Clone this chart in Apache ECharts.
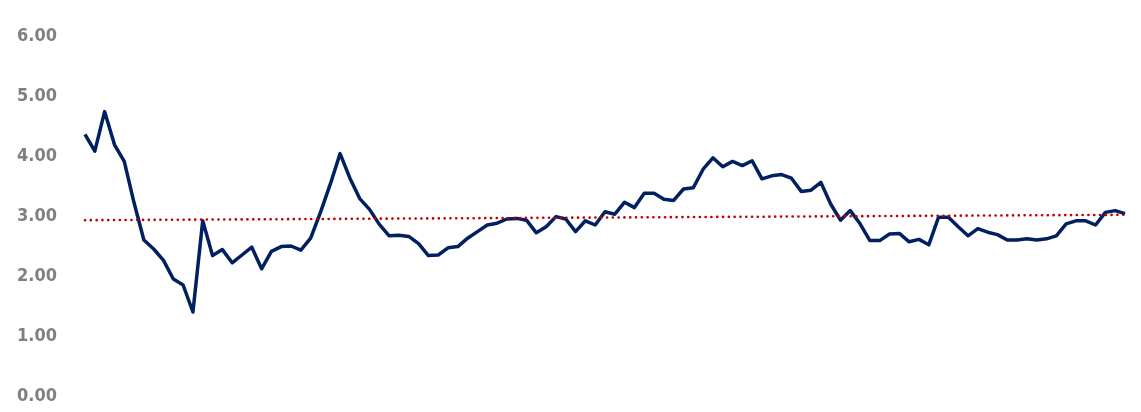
<!DOCTYPE html>
<html>
<head>
<meta charset="utf-8">
<script src="https://cdn.jsdelivr.net/npm/echarts@6/dist/echarts.min.js"></script>
<style>
html,body{margin:0;padding:0;background:#fff;}
#chart{width:1141px;height:412px;}
</style>
</head>
<body>
<div id="chart"></div>
<script>
// Series values
const values = [
  4.36, 4.08, 4.74, 4.19, 3.91, 3.22, 2.60, 2.45, 2.26, 1.95,
  1.85, 1.40, 2.92, 2.34, 2.44, 2.22, 2.35, 2.48, 2.12, 2.41,
  2.49, 2.50, 2.43, 2.63, 3.06, 3.53, 4.04, 3.63, 3.29, 3.11,
  2.86, 2.67, 2.68, 2.66, 2.54, 2.34, 2.35, 2.47, 2.49, 2.63,
  2.74, 2.85, 2.88, 2.95, 2.96, 2.93, 2.72, 2.82, 2.99, 2.95,
  2.74, 2.92, 2.85, 3.07, 3.03, 3.23, 3.14, 3.38, 3.38, 3.28,
  3.26, 3.45, 3.47, 3.78, 3.97, 3.82, 3.91, 3.84, 3.92, 3.62,
  3.67, 3.69, 3.63, 3.41, 3.43, 3.56, 3.20, 2.93, 3.09, 2.87,
  2.59, 2.59, 2.70, 2.71, 2.57, 2.61, 2.52, 2.98, 2.98, 2.82,
  2.67, 2.79, 2.73, 2.69, 2.60, 2.60, 2.62, 2.60, 2.62, 2.67,
  2.87, 2.92, 2.92, 2.85, 3.06, 3.09, 3.04
];
// Categories (no labels shown on the x axis in the reference)
const categories = values.map((v, i) => String(i + 1));
// Trend line end values
const trendEnds = [2.93, 3.02];
// Y-axis ticks
const yTicks = [0, 1, 2, 3, 4, 5, 6];

const trend = values.map(() => null);
trend[0] = trendEnds[0];
trend[trend.length - 1] = trendEnds[1];

const chart = echarts.init(document.getElementById('chart'), null, {renderer: 'canvas'});
chart.setOption({
  animation: false,
  backgroundColor: '#ffffff',
  grid: {left: 85, right: 16, top: 36, bottom: 16, containLabel: false},
  xAxis: {
    type: 'category',
    data: categories,
    boundaryGap: false,
    axisLine: {show: false},
    axisTick: {show: false},
    axisLabel: {show: false},
    splitLine: {show: false}
  },
  yAxis: {
    type: 'value',
    min: yTicks[0],
    max: yTicks[yTicks.length - 1],
    interval: 1,
    axisLine: {show: false},
    axisTick: {show: false},
    splitLine: {show: false},
    axisLabel: {
      margin: 28,
      color: '#7f7f7f',
      fontFamily: 'DejaVu Sans Condensed',
      fontWeight: 'bold',
      fontSize: 18,
      padding: [6, 0, 0, 0],
      formatter: v => v.toFixed(2)
    }
  },
  series: [
    {
      type: 'line',
      data: values,
      symbol: 'none',
      lineStyle: {color: '#002060', width: 3.5, join: 'round'},
      z: 2
    },
    {
      type: 'line',
      data: trend,
      connectNulls: true,
      symbol: 'none',
      lineStyle: {color: '#c00000', width: 2.6, type: [0.1, 5.7], cap: 'round'},
      z: 3
    }
  ]
});
</script>
</body>
</html>
